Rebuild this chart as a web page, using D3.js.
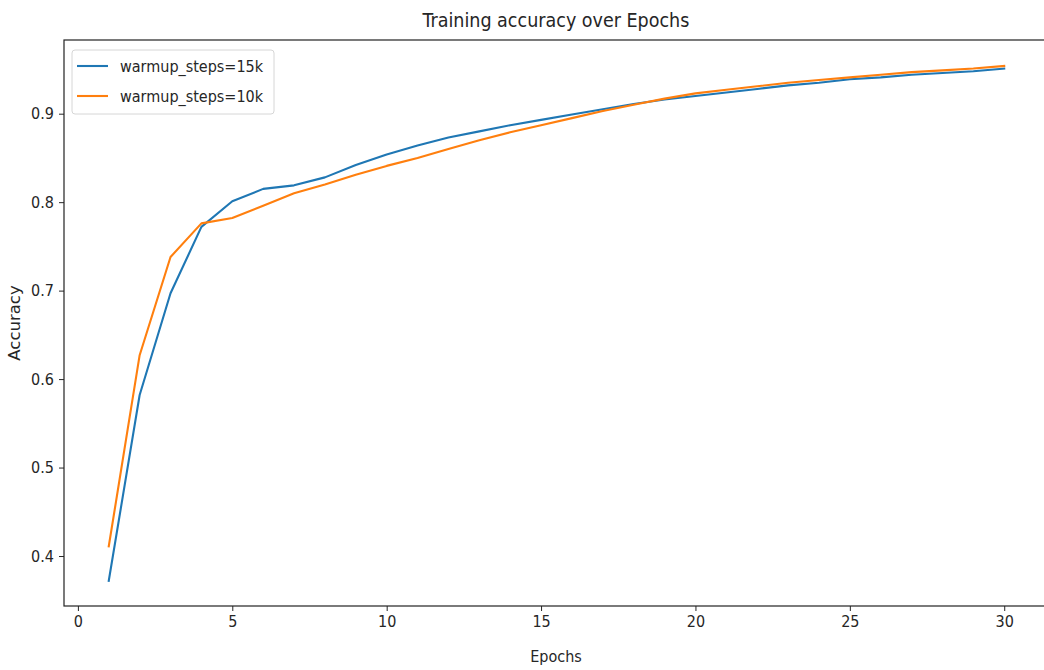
<!DOCTYPE html>
<html>
<head>
<meta charset="utf-8">
<script src="https://cdn.jsdelivr.net/npm/d3@7"></script>
<style>
  html, body { margin: 0; padding: 0; background: #fff; }
  svg text { font-family: "DejaVu Sans Condensed", "DejaVu Sans", sans-serif; font-stretch: condensed; fill: #262626; }
  svg text.ylabel { font-family: "DejaVu Sans", sans-serif; font-stretch: normal; }
</style>
</head>
<body>
<svg id="chart" width="1044" height="670"></svg>
<script>
// Training accuracy per epoch for two warmup settings
const epochs = d3.range(1, 31);
const acc15k = [0.372, 0.582, 0.697, 0.772, 0.801, 0.815, 0.819, 0.828, 0.842, 0.854,
                0.864, 0.873, 0.880, 0.887, 0.893, 0.899, 0.905, 0.911, 0.916, 0.920,
                0.924, 0.928, 0.932, 0.935, 0.939, 0.941, 0.944, 0.946, 0.948, 0.951];
const acc10k = [0.411, 0.627, 0.738, 0.776, 0.782, 0.796, 0.810, 0.820, 0.831, 0.841,
                0.850, 0.860, 0.870, 0.879, 0.887, 0.895, 0.903, 0.910, 0.917, 0.923,
                0.927, 0.931, 0.935, 0.938, 0.941, 0.944, 0.947, 0.949, 0.951, 0.954];
const seriesNames = ["warmup_steps=15k", "warmup_steps=10k"];
const seriesColors = ["#1f77b4", "#ff7f0e"];
const xTicks = [0, 5, 10, 15, 20, 25, 30];
const yTicks = [0.4, 0.5, 0.6, 0.7, 0.8, 0.9];

const svg = d3.select("#chart");
const plot = { left: 64, right: 1049, top: 40, bottom: 606 };

const x = d3.scaleLinear().domain([-0.45, 31.45]).range([plot.left, plot.right]);
const y = d3.scaleLinear().domain([0.3435, 0.9833]).range([plot.bottom, plot.top]);

// axes
const xAxis = d3.axisBottom(x).tickValues(xTicks).tickSize(5).tickPadding(5).tickFormat(d3.format("d"));
const yAxis = d3.axisLeft(y).tickValues(yTicks).tickSize(5).tickPadding(5).tickFormat(d3.format(".1f"));

const gx = svg.append("g").attr("transform", `translate(0,${plot.bottom})`).call(xAxis);
const gy = svg.append("g").attr("transform", `translate(${plot.left},0)`).call(yAxis);
[gx, gy].forEach(g => {
  g.select(".domain").remove();
  g.selectAll(".tick line").attr("stroke", "#262626").attr("stroke-width", 1);
  g.selectAll(".tick text").style("font-size", "16px").attr("fill", "#262626");
});

// frame
svg.append("rect")
  .attr("x", plot.left).attr("y", plot.top)
  .attr("width", plot.right - plot.left).attr("height", plot.bottom - plot.top)
  .attr("fill", "none").attr("stroke", "#222").attr("stroke-width", 1.2);

// lines
const line = d3.line().x((d, i) => x(epochs[i])).y(d => y(d));
[acc15k, acc10k].forEach((vals, k) => {
  svg.append("path")
    .datum(vals)
    .attr("d", line)
    .attr("fill", "none")
    .attr("stroke", seriesColors[k])
    .attr("stroke-width", 2.1)
    .attr("stroke-linejoin", "round")
    .attr("stroke-linecap", "square");
});

// title and axis labels
svg.append("text")
  .attr("x", 556).attr("y", 27)
  .attr("text-anchor", "middle")
  .style("font-size", "19.5px")
  .text("Training accuracy over Epochs");

svg.append("text")
  .attr("x", 556).attr("y", 662)
  .attr("text-anchor", "middle")
  .style("font-size", "16px")
  .text("Epochs");

svg.append("text")
  .attr("class", "ylabel")
  .attr("transform", "translate(20,323) rotate(-90)")
  .attr("text-anchor", "middle")
  .style("font-size", "16.5px")
  .text("Accuracy");

// legend
const lg = svg.append("g").attr("transform", "translate(72,50)");
lg.append("rect")
  .attr("width", 202).attr("height", 64).attr("rx", 3)
  .attr("fill", "#fff").attr("fill-opacity", 0.8)
  .attr("stroke", "#d6d6d6").attr("stroke-width", 1);
seriesNames.forEach((name, k) => {
  const cy = 16 + k * 30;
  lg.append("line")
    .attr("x1", 5).attr("x2", 36).attr("y1", cy).attr("y2", cy)
    .attr("stroke", seriesColors[k]).attr("stroke-width", 2.1);
  lg.append("text")
    .attr("x", 48).attr("y", cy + 6)
    .style("font-size", "16px")
    .text(name);
});
</script>
</body>
</html>
